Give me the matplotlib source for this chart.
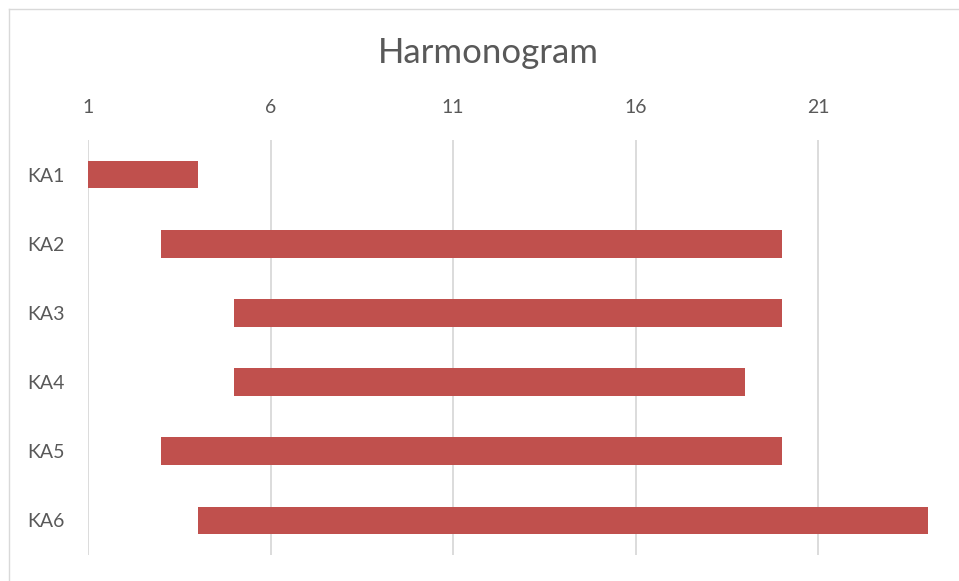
import matplotlib
matplotlib.use('Agg')
import matplotlib.pyplot as plt
from matplotlib.lines import Line2D

tasks = ["KA1", "KA2", "KA3", "KA4", "KA5", "KA6"]
start = [1, 3, 5, 5, 3, 4]
end = [4, 20, 20, 19, 20, 24]
ticks = [1, 6, 11, 16, 21]

plt.rcParams['font.family'] = ['Lato', 'DejaVu Sans']
grey = "#595959"

fig = plt.figure(figsize=(9.59, 5.81), dpi=100)
ax = fig.add_axes([88/959, 1-555/581, (928-88)/959, (555-140)/581])

dur = [e - s for s, e in zip(start, end)]
ax.barh(range(len(tasks)), dur, left=start, height=0.4, color="#c0504d", zorder=3)

ax.set_xlim(1, 24)
ax.set_ylim(len(tasks) - 0.5, -0.5)
ax.set_xticks(ticks)
ax.set_yticks(range(len(tasks)))
ax.set_yticklabels(tasks)
ax.xaxis.tick_top()
ax.tick_params(length=0, labelsize=14, labelcolor=grey)
ax.tick_params(axis='x', pad=17)
ax.tick_params(axis='y', pad=17)
ax.grid(axis='x', color="#d9d9d9", linewidth=1.3, zorder=0)
for s in ax.spines.values():
    s.set_visible(False)

fig.text(488/959, 1-53/581, "Harmonogram", ha='center', va='center', fontsize=25, color=grey)

# chart frame (only left and top visible in the crop)
fig.add_artist(Line2D([8.5/959, 8.5/959], [0, 1-9/581], transform=fig.transFigure, color="#d9d9d9", lw=1))
fig.add_artist(Line2D([8.5/959, 1], [1-9/581, 1-9/581], transform=fig.transFigure, color="#d9d9d9", lw=1))

fig.savefig("out.png", dpi=100)
